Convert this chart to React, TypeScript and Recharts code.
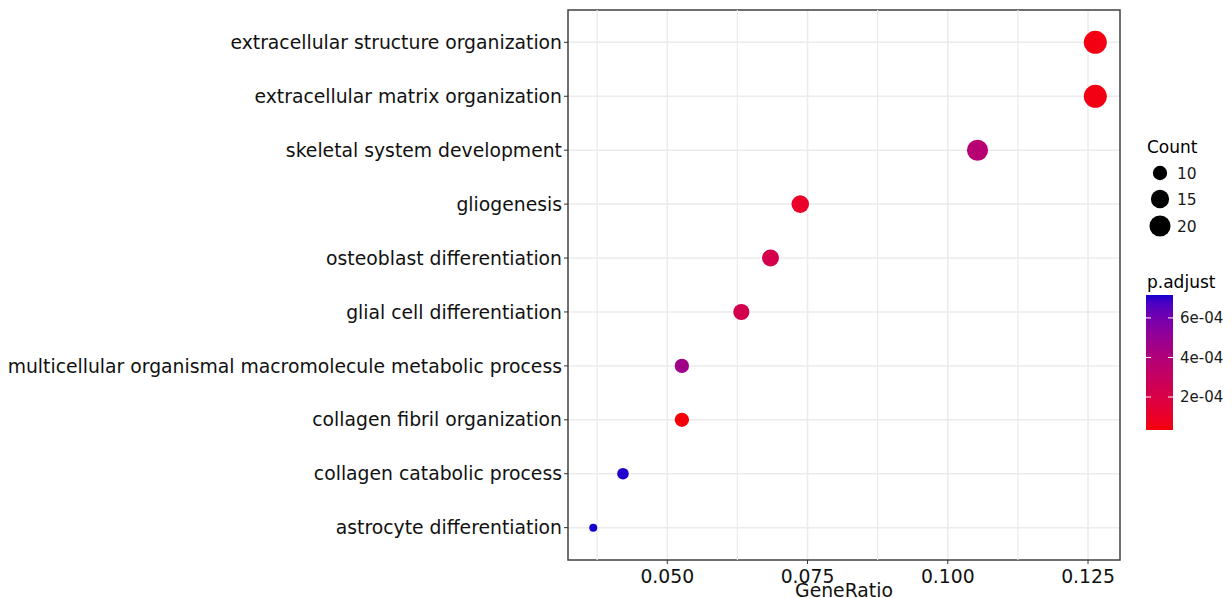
import React from "react";
import {
  ScatterChart,
  Scatter,
  XAxis,
  YAxis,
  CartesianGrid,
  ReferenceLine,
  ReferenceArea,
} from "recharts";

// GO terms, top to bottom
const TERMS = [
  "extracellular structure organization",
  "extracellular matrix organization",
  "skeletal system development",
  "gliogenesis",
  "osteoblast differentiation",
  "glial cell differentiation",
  "multicellular organismal macromolecule metabolic process",
  "collagen fibril organization",
  "collagen catabolic process",
  "astrocyte differentiation",
];
const GENE_RATIO = [0.1263, 0.1263, 0.1053, 0.0737, 0.0684, 0.0632, 0.0526, 0.0526, 0.0421, 0.0368];
const COUNTS = [24, 24, 20, 14, 13, 12, 10, 10, 8, 7];
const P_ADJUST = [4.5e-5, 5.0e-5, 3.7e-4, 1.0e-4, 2.2e-4, 2.3e-4, 4.6e-4, 3.3e-5, 7.1e-4, 7.16e-4];

const X_TICKS = [0.05, 0.075, 0.1, 0.125];
const X_MINOR = [0.0375, 0.0625, 0.0875, 0.1125];
const X_DOMAIN: [number, number] = [0.0323, 0.1307];
const COUNT_LEGEND = [10, 15, 20];
const P_LEGEND = [2e-4, 4e-4, 6e-4];

const FONT = "'DejaVu Sans', sans-serif";
const W = 1232;
const H = 598;

// colour scale: red -> blue, interpolated in CIELAB like ggplot
function toLin(c: number) {
  c /= 255;
  return c <= 0.04045 ? c / 12.92 : Math.pow((c + 0.055) / 1.055, 2.4);
}
function fromLin(c: number) {
  const v = c <= 0.0031308 ? 12.92 * c : 1.055 * Math.pow(c, 1 / 2.4) - 0.055;
  return Math.max(0, Math.min(255, Math.round(v * 255)));
}
function rgbToLab([r, g, b]: number[]) {
  const R = toLin(r), G = toLin(g), B = toLin(b);
  const X = (0.4124 * R + 0.3576 * G + 0.1805 * B) / 0.95047;
  const Y = 0.2126 * R + 0.7152 * G + 0.0722 * B;
  const Z = (0.0193 * R + 0.1192 * G + 0.9505 * B) / 1.08883;
  const f = (t: number) => (t > 0.008856 ? Math.cbrt(t) : 7.787 * t + 16 / 116);
  const fx = f(X), fy = f(Y), fz = f(Z);
  return [116 * fy - 16, 500 * (fx - fy), 200 * (fy - fz)];
}
function labToHex([L, a, b]: number[]) {
  const fy = (L + 16) / 116;
  const fx = fy + a / 500;
  const fz = fy - b / 200;
  const inv = (t: number) => (t * t * t > 0.008856 ? t * t * t : (t - 16 / 116) / 7.787);
  const X = inv(fx) * 0.95047, Y = inv(fy), Z = inv(fz) * 1.08883;
  const r = 3.2406 * X - 1.5372 * Y - 0.4986 * Z;
  const g = -0.9689 * X + 1.8758 * Y + 0.0415 * Z;
  const bb = 0.0557 * X - 0.204 * Y + 1.057 * Z;
  return "#" + [r, g, bb].map((c) => fromLin(c).toString(16).padStart(2, "0")).join("");
}
const LOW = rgbToLab([245, 0, 10]);
const HIGH = rgbToLab([20, 0, 205]);
const P_MIN = Math.min(...P_ADJUST);
const P_MAX = Math.max(...P_ADJUST);
function colorFor(p: number) {
  const t = (p - P_MIN) / (P_MAX - P_MIN);
  return labToHex(LOW.map((v, i) => v + (HIGH[i] - v) * t));
}

// size scale (area palette, like scale_size)
const C_MIN = Math.min(...COUNTS);
const C_MAX = Math.max(...COUNTS);
const R_MIN = 4;
const R_MAX = 11.5;
function radiusFor(c: number) {
  const t = Math.max(0, (c - C_MIN) / (C_MAX - C_MIN));
  return R_MIN + (R_MAX - R_MIN) * Math.sqrt(t);
}

const data = TERMS.map((term, i) => ({
  term,
  idx: i,
  ratio: GENE_RATIO[i],
  count: COUNTS[i],
  p: P_ADJUST[i],
}));

function Dot(props: any) {
  const { cx, cy, payload } = props;
  if (cx == null || cy == null) return null;
  return <circle cx={cx} cy={cy} r={radiusFor(payload.count)} fill={colorFor(payload.p)} />;
}

function Legend() {
  const barX = 1146;
  const barW = 27;
  const barTop = 295;
  const barBottom = 430;
  const stops = Array.from({ length: 21 }, (_, k) => k / 20);
  const yFor = (p: number) => barBottom - ((p - P_MIN) / (P_MAX - P_MIN)) * (barBottom - barTop);
  const countY = [173, 199, 226];
  return (
    <svg width={W} height={H} style={{ position: "absolute", left: 0, top: 0, pointerEvents: "none" }}>
      <defs>
        <linearGradient id="padj" x1="0" y1="1" x2="0" y2="0">
          {stops.map((s) => (
            <stop key={s} offset={s} stopColor={colorFor(P_MIN + s * (P_MAX - P_MIN))} />
          ))}
        </linearGradient>
      </defs>
      <text x={1147} y={153} fontFamily={FONT} fontSize={17} fill="#000">
        Count
      </text>
      {COUNT_LEGEND.map((c, i) => (
        <g key={c}>
          <circle cx={1160} cy={countY[i]} r={radiusFor(c)} fill="#000" />
          <text x={1177} y={countY[i]} dy="0.36em" fontFamily={FONT} fontSize={15.5} fill="#1a1a1a">
            {c}
          </text>
        </g>
      ))}
      <text x={1147} y={288} fontFamily={FONT} fontSize={17} fill="#000">
        p.adjust
      </text>
      <rect x={barX} y={barTop} width={barW} height={barBottom - barTop} fill="url(#padj)" />
      {P_LEGEND.map((p) => (
        <g key={p}>
          <line x1={barX} x2={barX + 5} y1={yFor(p)} y2={yFor(p)} stroke="#fff" strokeWidth={1} />
          <line x1={barX + barW - 5} x2={barX + barW} y1={yFor(p)} y2={yFor(p)} stroke="#fff" strokeWidth={1} />
          <text x={1180} y={yFor(p)} dy="0.36em" fontFamily={FONT} fontSize={15} fill="#1a1a1a">
            {p.toExponential(0).replace("e-", "e-0")}
          </text>
        </g>
      ))}
    </svg>
  );
}

export default function App() {
  const tickStyle = { fontFamily: FONT, fontSize: 18.8, fill: "#111" };
  return (
    <div style={{ position: "absolute", left: 0, top: 0, width: W, height: H, background: "#fff" }}>
      <ScatterChart width={W} height={H} margin={{ top: 10, right: 112, bottom: 0, left: 0 }}>
        <CartesianGrid stroke="#ebebeb" strokeWidth={1.5} />
        {X_MINOR.map((v) => (
          <ReferenceLine key={v} x={v} stroke="#ebebeb" strokeWidth={1.2} />
        ))}
        <XAxis
          type="number"
          dataKey="ratio"
          domain={X_DOMAIN}
          ticks={X_TICKS}
          allowDataOverflow
          tickFormatter={(v: number) => v.toFixed(3)}
          tick={tickStyle}
          tickSize={4}
          tickMargin={6}
          height={38}
          stroke="#333"
          axisLine={false}
          label={{
            value: "GeneRatio",
            position: "insideBottom",
            offset: 1,
            style: { fontFamily: FONT, fontSize: 18.8, fill: "#111" },
          }}
        />
        <YAxis
          type="number"
          dataKey="idx"
          domain={[-0.6, 9.6]}
          reversed
          ticks={TERMS.map((_, i) => i)}
          interval={0}
          tickFormatter={(i: number) => TERMS[i]}
          tick={tickStyle}
          tickSize={4}
          tickMargin={2}
          width={568}
          stroke="#333"
          axisLine={false}
        />
        <ReferenceArea
          x1={X_DOMAIN[0]}
          x2={X_DOMAIN[1]}
          y1={-0.6}
          y2={9.6}
          fill="none"
          stroke="#444"
          strokeWidth={1.5}
          ifOverflow="visible"
        />
        <Scatter data={data} shape={<Dot />} isAnimationActive={false} />
      </ScatterChart>
      <Legend />
    </div>
  );
}
